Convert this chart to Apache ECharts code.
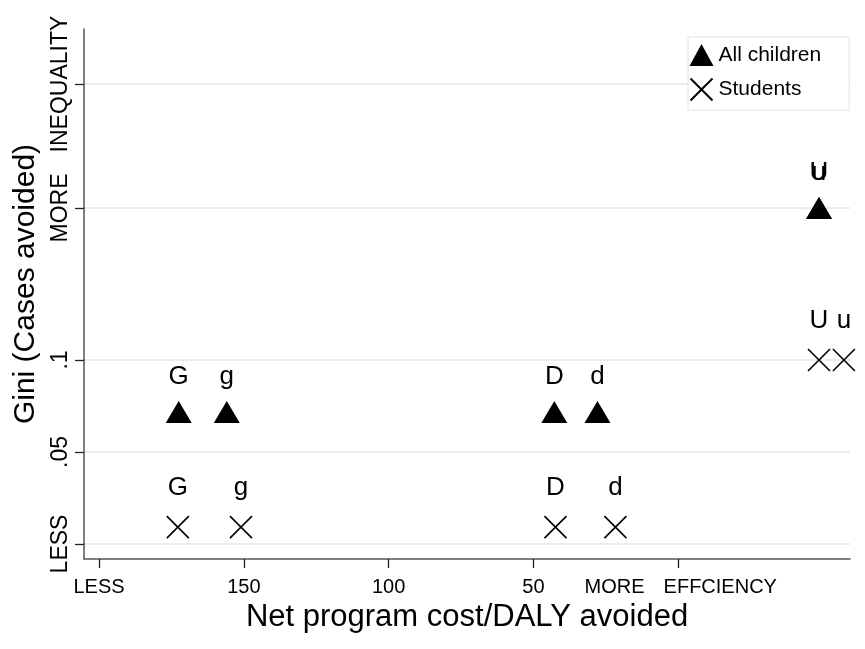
<!DOCTYPE html>
<html>
<head>
<meta charset="utf-8">
<script src="https://cdn.jsdelivr.net/npm/echarts@6/dist/echarts.min.js"></script>
<style>
html,body{margin:0;padding:0;background:#fff;}
#c{width:865px;height:649px;}
</style>
</head>
<body>
<div id="c"></div>
<script>
// ---- data ----
const triLabels = ['G', 'g', 'D', 'd', 'U', 'u'];
const triX = [172.5, 155.9, 42.8, 27.9, -48.6, -48.6];
const triY = [0.0717, 0.0717, 0.0717, 0.0717, 0.1826, 0.1826];

const crossLabels = ['G', 'g', 'D', 'd', 'U', 'u'];
const crossX = [172.8, 151.0, 42.4, 21.7, -48.6, -57.2];
const crossY = [0.0092, 0.0092, 0.0092, 0.0092, 0.1, 0.1];

const seriesNames = ['All children', 'Students'];

const xTickValues = [200, 150, 100, 50, 0];
const xLabelValues = [200, 150, 100, 50, 22, -14.5];
const xLabelTexts = ['LESS', '150', '100', '50', 'MORE', 'EFFCIENCY'];

const yTickValues = [0, 0.05, 0.1, 0.1826, 0.25];
const yLabelTexts = ['LESS', '.05', '.1', 'MORE', 'INEQUALITY'];

// ---- chart ----
const FONT = '"Liberation Sans", Arial, Helvetica, sans-serif';
function lookup(vals, texts) {
  return function (v) {
    for (let i = 0; i < vals.length; i++) {
      if (Math.abs(vals[i] - v) < 1e-6) return texts[i];
    }
    return '';
  };
}
const crossPath = 'path://M0,0L10,10M10,0L0,10';

const chart = echarts.init(document.getElementById('c'), null, {renderer: 'canvas'});
chart.setOption({
  animation: false,
  backgroundColor: '#fff',
  textStyle: {fontFamily: FONT, color: '#000'},
  grid: {left: 84, right: 15, top: 29, bottom: 90, containLabel: false},
  legend: {
    orient: 'vertical',
    left: 688,
    top: 37,
    padding: [7, 28, 7, 0],
    itemGap: 10,
    itemWidth: 24,
    itemHeight: 22,
    backgroundColor: '#fff',
    borderColor: '#e2e2e2',
    borderWidth: 1,
    borderRadius: 0,
    textStyle: {fontFamily: FONT, fontSize: 21, color: '#000'},
    data: seriesNames
  },
  xAxis: {
    type: 'value',
    inverse: true,
    min: -59.3,
    max: 205.2,
    name: 'Net program cost/DALY avoided',
    nameLocation: 'middle',
    nameGap: 33,
    nameTextStyle: {fontFamily: FONT, fontSize: 31, color: '#000'},
    axisLine: {show: true, onZero: false, lineStyle: {color: '#555', width: 1.5}},
    axisTick: {show: true, length: 9, customValues: xTickValues, lineStyle: {color: '#222', width: 1.3}},
    axisLabel: {
      customValues: xLabelValues,
      margin: 18,
      fontSize: 20,
      color: '#000',
      fontFamily: FONT,
      formatter: lookup(xLabelValues, xLabelTexts)
    },
    splitLine: {show: false}
  },
  yAxis: {
    type: 'value',
    min: -0.00815,
    max: 0.2799,
    name: 'Gini (Cases avoided)',
    nameLocation: 'middle',
    nameGap: 40,
    nameTextStyle: {fontFamily: FONT, fontSize: 30, color: '#000', padding: [0, 0, 0, 20]},
    axisLine: {show: true, onZero: false, lineStyle: {color: '#555', width: 1.5}},
    axisTick: {show: true, length: 9, customValues: yTickValues, lineStyle: {color: '#222', width: 1.3}},
    axisLabel: {
      customValues: yTickValues,
      rotate: 90,
      margin: 12,
      fontSize: 23,
      color: '#000',
      fontFamily: FONT,
      formatter: lookup(yTickValues, yLabelTexts)
    },
    splitLine: {show: true, lineStyle: {color: '#e1e6f0', width: 1.5}}
  },
  series: [
    {
      name: seriesNames[0],
      type: 'scatter',
      symbol: 'triangle',
      symbolSize: [26, 22],
      itemStyle: {color: '#000', opacity: 1},
      label: {
        show: true,
        position: 'top',
        distance: 11,
        fontSize: 26,
        fontFamily: FONT,
        color: '#000',
        formatter: function (p) { return triLabels[p.dataIndex]; }
      },
      data: triX.map(function (x, i) { return [x, triY[i]]; })
    },
    {
      name: seriesNames[1],
      type: 'scatter',
      symbol: crossPath,
      symbolSize: [22, 22],
      itemStyle: {color: 'none', borderColor: '#000', borderWidth: 1.6, opacity: 1},
      label: {
        show: true,
        position: 'top',
        distance: 13,
        fontSize: 26,
        fontFamily: FONT,
        color: '#000',
        formatter: function (p) { return crossLabels[p.dataIndex]; }
      },
      data: crossX.map(function (x, i) { return [x, crossY[i]]; })
    }
  ]
});
</script>
</body>
</html>
